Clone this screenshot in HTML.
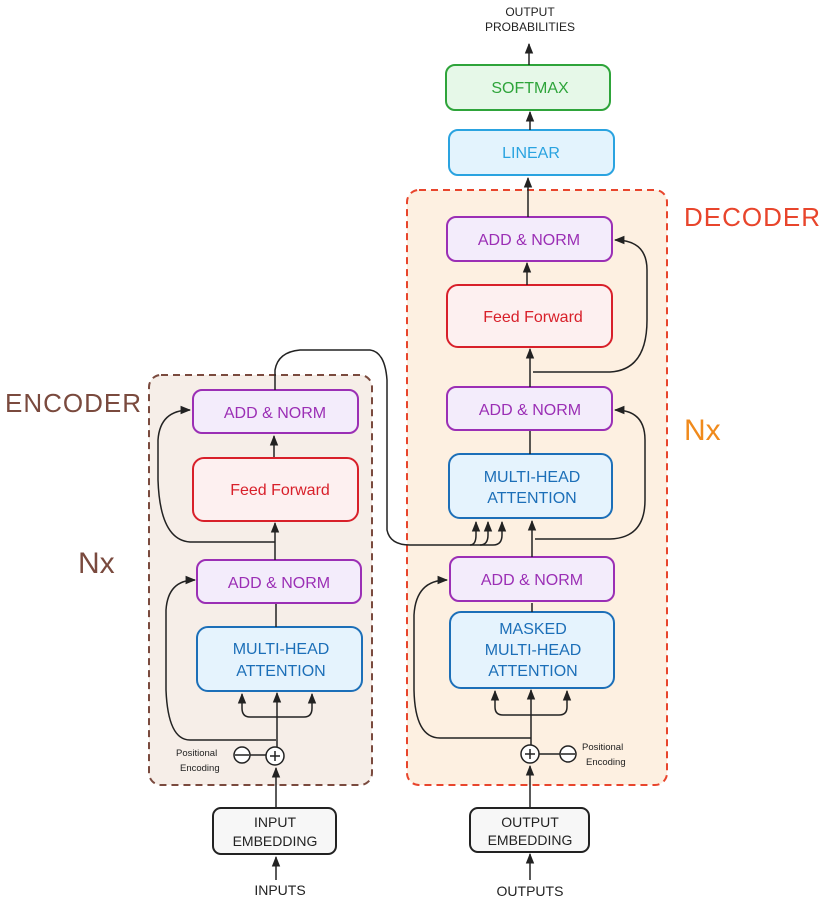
<!DOCTYPE html>
<html><head><meta charset="utf-8"><style>
html,body{margin:0;padding:0;background:#fff;}
svg{display:block;font-family:"Liberation Sans",sans-serif;}
</style></head><body>
<svg width="828" height="907" viewBox="0 0 828 907" xmlns="http://www.w3.org/2000/svg">
<defs>
<marker id="a" viewBox="0 0 10 10" refX="9" refY="5" markerWidth="7" markerHeight="7" orient="auto"><path d="M0,1 L10,5 L0,9 z" fill="#222"/></marker>
</defs>
<rect x="149" y="375" width="223" height="410" rx="12" fill="#f6eee8" stroke="#7a4a3e" stroke-width="2" stroke-dasharray="7,5"/>
<rect x="407" y="190" width="260" height="595" rx="12" fill="#fdf0e1" stroke="#e8452c" stroke-width="2" stroke-dasharray="7,5"/>
<text x="5" y="412" font-size="26" fill="#7a4a3e" letter-spacing="1">ENCODER</text>
<text x="78" y="573" font-size="30" fill="#7a4a3e">Nx</text>
<text x="684" y="226" font-size="26" fill="#e8452c" letter-spacing="1">DECODER</text>
<text x="684" y="440" font-size="30" fill="#f08a1c">Nx</text>
<g stroke-width="2" font-size="16" text-anchor="middle">
<rect x="193" y="390" width="165" height="43" rx="9" fill="#f3ecfb" stroke="#9b2fb5"/>
<text x="275" y="418" fill="#9b2fb5" stroke="none">ADD &amp; NORM</text>
<rect x="193" y="458" width="165" height="63" rx="11" fill="#fdf0f0" stroke="#d8202a"/>
<text x="280" y="495" fill="#d8202a" stroke="none">Feed Forward</text>
<rect x="197" y="560" width="164" height="43" rx="9" fill="#f3ecfb" stroke="#9b2fb5"/>
<text x="279" y="588" fill="#9b2fb5" stroke="none">ADD &amp; NORM</text>
<rect x="197" y="627" width="165" height="64" rx="11" fill="#e5f3fd" stroke="#1c6fb8"/>
<text x="281" y="654" fill="#1c6fb8" stroke="none">MULTI-HEAD</text>
<text x="281" y="676" fill="#1c6fb8" stroke="none">ATTENTION</text>
<rect x="213" y="808" width="123" height="46" rx="8" fill="#f7f7f7" stroke="#222"/>
<text x="275" y="827" font-size="14" fill="#222" stroke="none">INPUT</text>
<text x="275" y="846" font-size="14" fill="#222" stroke="none">EMBEDDING</text>
<text x="280" y="895" font-size="14" fill="#222" stroke="none">INPUTS</text>
<rect x="446" y="65" width="164" height="45" rx="9" fill="#e6f8e8" stroke="#2ea43a"/>
<text x="530" y="93" fill="#2ea43a" stroke="none">SOFTMAX</text>
<rect x="449" y="130" width="165" height="45" rx="9" fill="#e3f3fd" stroke="#2aa3e0"/>
<text x="531" y="158" fill="#2aa3e0" stroke="none">LINEAR</text>
<rect x="447" y="217" width="165" height="44" rx="9" fill="#f3ecfb" stroke="#9b2fb5"/>
<text x="529" y="245" fill="#9b2fb5" stroke="none">ADD &amp; NORM</text>
<rect x="447" y="285" width="165" height="62" rx="11" fill="#fdf0f0" stroke="#d8202a"/>
<text x="533" y="322" fill="#d8202a" stroke="none">Feed Forward</text>
<rect x="447" y="387" width="165" height="43" rx="9" fill="#f3ecfb" stroke="#9b2fb5"/>
<text x="530" y="415" fill="#9b2fb5" stroke="none">ADD &amp; NORM</text>
<rect x="449" y="454" width="163" height="64" rx="11" fill="#e5f3fd" stroke="#1c6fb8"/>
<text x="532" y="482" fill="#1c6fb8" stroke="none">MULTI-HEAD</text>
<text x="532" y="503" fill="#1c6fb8" stroke="none">ATTENTION</text>
<rect x="450" y="557" width="164" height="44" rx="9" fill="#f3ecfb" stroke="#9b2fb5"/>
<text x="532" y="585" fill="#9b2fb5" stroke="none">ADD &amp; NORM</text>
<rect x="450" y="612" width="164" height="76" rx="11" fill="#e5f3fd" stroke="#1c6fb8"/>
<text x="533" y="634" fill="#1c6fb8" stroke="none">MASKED</text>
<text x="533" y="655" fill="#1c6fb8" stroke="none">MULTI-HEAD</text>
<text x="533" y="676" fill="#1c6fb8" stroke="none">ATTENTION</text>
<rect x="470" y="808" width="119" height="44" rx="8" fill="#f7f7f7" stroke="#222"/>
<text x="530" y="827" font-size="14" fill="#222" stroke="none">OUTPUT</text>
<text x="530" y="845" font-size="14" fill="#222" stroke="none">EMBEDDING</text>
<text x="530" y="896" font-size="14" fill="#222" stroke="none">OUTPUTS</text>
<text x="530" y="16" font-size="12" fill="#222" stroke="none">OUTPUT</text>
<text x="530" y="31" font-size="12" fill="#222" stroke="none">PROBABILITIES</text>
</g>
<g fill="none" stroke="#222" stroke-width="1.5">
<path d="M276 880 V857" marker-end="url(#a)"/>
<path d="M276 808 V768" marker-end="url(#a)"/>
<circle cx="275" cy="756" r="9" fill="#fff"/>
<path d="M270 756 h10 M275 751 v10"/>
<circle cx="242" cy="755" r="8" fill="#fff"/>
<path d="M235 755 h14 M250 755 h16"/>
<path d="M277 747 V693" marker-end="url(#a)"/>
<path d="M277 717 H250 Q242 717 242 708 V694" marker-end="url(#a)"/>
<path d="M277 717 H304 Q312 717 312 708 V694" marker-end="url(#a)"/>
<path d="M276 740 H190 Q168 740 166 690 V610 Q168 580 195 580" marker-end="url(#a)"/>
<path d="M276 627 V604"/>
<path d="M275 560 V523" marker-end="url(#a)"/>
<path d="M275 542 H190 Q160 540 158 480 V440 Q160 410 190 410" marker-end="url(#a)"/>
<path d="M274 457 V436" marker-end="url(#a)"/>
<path d="M275 390 V370 Q278 352 300 350 H370 Q385 352 387 380 V530 Q390 545 410 545 H493 Q502 545 502 535 V522" marker-end="url(#a)"/>
<path d="M470 545 Q476 545 476 535 V522" marker-end="url(#a)"/>
<path d="M480 545 Q488 545 488 535 V522" marker-end="url(#a)"/>
<path d="M530 880 V854" marker-end="url(#a)"/>
<path d="M530 808 V766" marker-end="url(#a)"/>
<circle cx="530" cy="754" r="9" fill="#fff"/>
<path d="M525 754 h10 M530 749 v10"/>
<circle cx="568" cy="754" r="8" fill="#fff"/>
<path d="M561 754 h14 M539 754 h21"/>
<path d="M531 745 V690" marker-end="url(#a)"/>
<path d="M531 715 H503 Q495 715 495 707 V691" marker-end="url(#a)"/>
<path d="M531 715 H559 Q567 715 567 707 V691" marker-end="url(#a)"/>
<path d="M531 738 H440 Q415 738 414 690 V615 Q416 580 447 580" marker-end="url(#a)"/>
<path d="M532 612 V603"/>
<path d="M532 557 V521" marker-end="url(#a)"/>
<path d="M535 539 H610 Q645 538 645 500 V440 Q645 410 615 410" marker-end="url(#a)"/>
<path d="M530 454 V431"/>
<path d="M530 387 V349" marker-end="url(#a)"/>
<path d="M533 372 H610 Q647 370 647 320 V270 Q647 240 615 240" marker-end="url(#a)"/>
<path d="M527 285 V263" marker-end="url(#a)"/>
<path d="M528 217 V178" marker-end="url(#a)"/>
<path d="M530 130 V112" marker-end="url(#a)"/>
<path d="M529 65 V44" marker-end="url(#a)"/>
</g>
<g font-size="9.5" fill="#222">
<text x="176" y="756">Positional</text>
<text x="180" y="771">Encoding</text>
<text x="582" y="750">Positional</text>
<text x="586" y="765">Encoding</text>
</g>
</svg>
</body></html>
